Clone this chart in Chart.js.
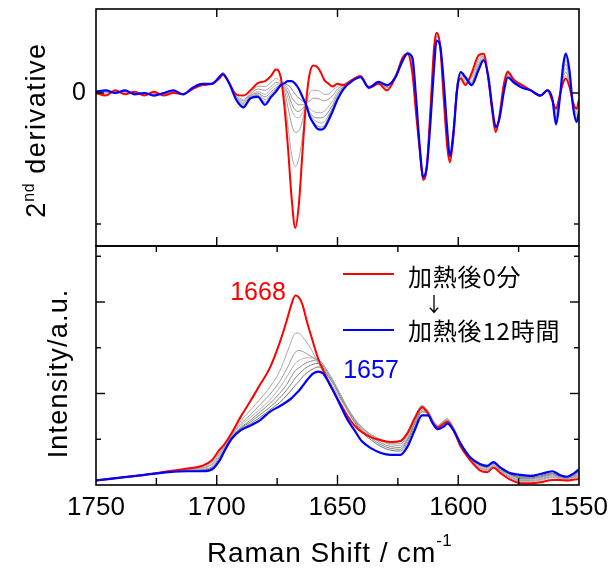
<!DOCTYPE html>
<html>
<head>
<meta charset="utf-8">
<script src="https://cdn.jsdelivr.net/npm/chart.js@4/dist/chart.umd.min.js"></script>
<style>
html,body{margin:0;padding:0;background:#fff;}
#wrap{position:relative;width:616px;height:570px;}
#wrap canvas{position:absolute;left:0;top:0;}
</style>
</head>
<body>
<div id="wrap">
<canvas id="cBot" width="616" height="570"></canvas>
<canvas id="cTop" width="616" height="570"></canvas>
</div>
<script>
// ---------- DATA ----------
const xTicks = [1750, 1700, 1650, 1600, 1550];
const xMinorTicks = [1725, 1675, 1625, 1575];

// top panel: 2nd derivative
const wnTop = [1750,1746,1742,1738,1734,1730,1726,1722,1718,1714,
1710,1706,1702,1699,1697.5,1695,1692,1689,1686,1683,
1680,1677.5,1675.5,1673.5,1672,1670.5,1669,1667.5,1666,1664.5,
1663,1661.5,1660,1658.5,1657,1655.5,1654,1652,1650,1647.5,
1644,1640.5,1637,1633,1629.5,1626,1623,1621,1619,1617.5,
1616,1614.5,1613,1611.5,1610,1609,1607.5,1606,1604.5,1603.5,
1602,1600.5,1599,1597,1594.5,1591.5,1589.5,1587.5,1586,1584.5,
1583,1581,1579.5,1577,1573.5,1570,1566,1563,1561,1559.5,
1558,1556.5,1555.5,1554,1552.5,1551,1550];

const redTop = [0.00,-0.02,0.02,-0.01,0.01,-0.02,0.01,-0.02,0.00,-0.01,
0.03,0.06,0.07,0.11,0.14,0.08,-0.01,-0.02,0.02,0.075,
0.09,0.13,0.18,0.12,-0.10,-0.42,-0.80,-1.03,-0.85,-0.45,
-0.07,0.15,0.21,0.20,0.16,0.10,0.075,0.05,0.07,0.06,
0.10,0.13,0.04,0.07,0.02,0.12,0.27,0.30,0.15,-0.15,
-0.43,-0.66,-0.56,-0.12,0.35,0.46,0.36,-0.05,-0.42,-0.53,
-0.33,0.02,0.11,0.06,0.15,0.29,0.30,0.10,-0.13,-0.30,
-0.18,0.08,0.16,0.10,0.06,0.02,-0.02,0.02,-0.06,-0.12,
-0.02,0.08,0.11,0.05,-0.07,-0.12,-0.05];

const blueTop = [0.01,0.02,0.00,0.02,-0.01,0.00,-0.02,0.00,0.02,-0.01,
0.04,0.07,0.07,0.12,0.145,0.08,-0.05,-0.11,-0.04,-0.03,
-0.09,-0.03,0.01,0.06,0.075,0.09,0.09,0.07,0.03,-0.03,
-0.09,-0.18,-0.23,-0.27,-0.28,-0.27,-0.22,-0.14,-0.05,0.03,
0.09,0.12,0.04,0.085,0.06,0.12,0.25,0.30,0.27,-0.03,
-0.40,-0.64,-0.56,-0.22,0.20,0.40,0.36,0.08,-0.30,-0.48,
-0.30,0.02,0.16,0.12,0.06,0.18,0.25,0.12,-0.10,-0.26,
-0.20,0.02,0.12,0.08,0.04,0.02,-0.02,0.02,-0.05,-0.24,
-0.05,0.22,0.30,0.18,-0.10,-0.22,-0.15];

const grayTop1 = [.00,.00,.01,.00,.00,-.01,.00,-.01,.01,-.01,
.03,.06,.07,.12,.155,.08,-.01,-.05,.00,.05,
.05,.08,.11,.08,-.02,-.25,-.47,-.56,-.50,-.33,
-.10,.00,.02,.02,.01,-.01,-.01,.02,.05,.07,
.10,.13,.05,.08,.04,.13,.26,.31,.17,-.13,
-.42,-.67,-.57,-.14,.33,.46,.37,-.03,-.40,-.52,
-.32,.05,.12,.07,.14,.28,.29,.10,-.13,-.29,
-.19,.07,.17,.11,.06,.02,-.02,.025,-.06,-.14,
-.03,.10,.13,.07,-.07,-.13,-.06];
const grayTop2 = [.00,.00,.01,.01,.00,-.01,.00,-.01,.01,-.01,
.03,.06,.07,.12,.155,.08,-.02,-.06,-.01,.03,
.02,.05,.08,.07,.02,-.11,-.24,-.30,-.29,-.21,
-.09,-.06,-.04,-.04,-.05,-.06,-.05,-.02,.03,.06,
.10,.13,.05,.08,.04,.13,.26,.31,.19,-.11,
-.42,-.67,-.57,-.15,.31,.45,.37,-.01,-.38,-.51,
-.31,.06,.13,.08,.12,.26,.28,.10,-.12,-.28,
-.19,.06,.17,.11,.06,.02,-.02,.025,-.06,-.16,
-.03,.12,.16,.08,-.08,-.15,-.08];
const grayTop3 = [.00,.01,.01,.01,.00,-.01,-.01,-.01,.01,-.01,
.04,.06,.07,.12,.155,.08,-.03,-.07,-.02,.01,
-.01,.03,.06,.07,.04,-.04,-.13,-.18,-.19,-.15,
-.09,-.12,-.14,-.15,-.15,-.14,-.11,-.06,.01,.06,
.10,.13,.05,.08,.04,.14,.25,.31,.21,-.09,
-.41,-.66,-.57,-.16,.29,.45,.37,.01,-.36,-.51,
-.31,.06,.14,.09,.11,.24,.28,.10,-.12,-.27,
-.20,.05,.16,.10,.06,.02,-.02,.025,-.06,-.18,
-.04,.14,.19,.10,-.08,-.17,-.09];
const grayTop4 = [.01,.01,.00,.01,.00,.00,-.01,.00,.01,-.01,
.04,.06,.07,.12,.155,.08,-.03,-.08,-.02,.00,
-.03,.01,.04,.06,.05,.00,-.08,-.13,-.14,-.12,
-.09,-.15,-.18,-.19,-.19,-.18,-.15,-.09,-.01,.05,
.10,.13,.05,.08,.04,.14,.25,.31,.23,-.07,
-.41,-.65,-.56,-.17,.27,.44,.37,.03,-.34,-.50,
-.30,.06,.15,.10,.09,.22,.27,.10,-.11,-.26,
-.20,.05,.16,.10,.06,.02,-.02,.025,-.05,-.19,
-.04,.16,.22,.12,-.09,-.19,-.11];
const grayTop5 = [.00,.02,.00,.02,-.01,.00,-.01,.00,.02,-.01,
.04,.07,.07,.12,.15,.08,-.04,-.09,-.03,-.01,
-.05,-.01,.03,.06,.06,.03,-.03,-.07,-.09,-.09,
-.09,-.16,-.20,-.22,-.23,-.22,-.18,-.11,-.03,.05,
.09,.13,.04,.08,.05,.13,.24,.31,.25,-.05,
-.40,-.65,-.56,-.18,.25,.43,.36,.05,-.32,-.49,
-.29,.06,.15,.11,.08,.21,.26,.10,-.11,-.25,
-.21,.04,.15,.10,.06,.02,-.02,.025,-.05,-.21,
-.04,.18,.25,.14,-.09,-.20,-.12];
const grayTop6 = [.01,.02,.00,.02,-.01,.00,-.02,.00,.02,-.01,
.04,.07,.07,.12,.15,.08,-.04,-.10,-.03,-.02,
-.07,-.02,.02,.06,.07,.06,.03,-.01,-.04,-.06,
-.09,-.17,-.22,-.25,-.26,-.25,-.20,-.12,-.04,.04,
.09,.12,.04,.085,.05,.13,.23,.30,.26,-.04,
-.40,-.64,-.55,-.19,.23,.43,.36,.07,-.31,-.49,
-.29,.06,.16,.11,.07,.19,.26,.10,-.10,-.25,
-.21,.03,.14,.09,.06,.02,-.02,.025,-.05,-.22,
-.05,.20,.28,.16,-.10,-.22,-.14];

// bottom panel: intensity
const wnBot = [1750,1740,1730,1720,1712,1706,1702,1699,1697,1694,
1690,1686,1682,1678,1674,1671,1669,1667.5,1666,1664.5,
1662.5,1660,1658,1656,1654,1652,1649,1646,1643,1640,
1636,1632,1628,1624,1621,1618,1615,1612.5,1610.5,1608.5,
1606,1604.5,1602,1599,1595,1591,1588,1585.5,1582.5,1578.5,
1574,1570,1566,1561,1558,1555,1552,1550];

const redBot = [.05,.08,.11,.15,.18,.21,.27,.38,.44,.56,
.75,.92,1.10,1.28,1.55,1.80,1.98,2.07,2.05,1.97,
1.77,1.55,1.38,1.26,1.14,1.04,.90,.76,.65,.58,
.52,.49,.47,.48,.57,.73,.85,.78,.68,.63,
.67,.69,.60,.42,.27,.16,.14,.19,.13,.06,
.02,.02,.03,.055,.055,.05,.06,.065];

const blueBot = [.05,.08,.11,.14,.15,.15,.17,.26,.36,.50,
.60,.65,.71,.80,.86,.91,.95,.99,1.03,1.08,
1.15,1.22,1.24,1.22,1.14,1.04,.88,.72,.60,.48,
.40,.35,.33,.33,.42,.60,.76,.76,.67,.61,
.64,.67,.60,.45,.30,.23,.21,.25,.19,.13,
.11,.10,.12,.15,.11,.09,.13,.17];

const grayBot1 = [.05,.08,.11,.15,.175,.20,.25,.35,.42,.55,
.70,.82,.94,1.07,1.24,1.44,1.58,1.66,1.66,1.62,
1.55,1.44,1.33,1.24,1.16,1.08,.95,.82,.71,.63,
.55,.50,.47,.47,.57,.75,.87,.81,.71,.65,
.70,.72,.63,.45,.29,.18,.16,.21,.15,.08,
.04,.04,.05,.08,.07,.06,.08,.09];
const grayBot2 = [.05,.08,.11,.15,.17,.19,.23,.33,.41,.54,
.67,.77,.88,.99,1.13,1.27,1.38,1.45,1.47,1.46,
1.43,1.39,1.35,1.28,1.20,1.12,.98,.84,.72,.63,
.55,.49,.45,.45,.55,.73,.86,.81,.71,.65,
.70,.72,.63,.46,.30,.19,.17,.22,.16,.09,
.05,.05,.06,.09,.08,.07,.09,.10];
const grayBot3 = [.05,.08,.11,.145,.165,.18,.22,.31,.40,.53,
.65,.74,.83,.93,1.06,1.18,1.27,1.33,1.36,1.38,
1.39,1.39,1.37,1.32,1.23,1.15,1.00,.85,.73,.63,
.54,.48,.44,.43,.53,.71,.85,.81,.71,.65,
.70,.72,.63,.46,.30,.20,.18,.23,.16,.10,
.06,.06,.07,.10,.08,.07,.09,.11];
const grayBot4 = [.05,.08,.11,.145,.16,.17,.20,.30,.39,.52,
.63,.71,.80,.89,1.00,1.10,1.19,1.25,1.28,1.31,
1.34,1.36,1.37,1.32,1.24,1.15,1.00,.85,.72,.62,
.53,.46,.42,.41,.51,.69,.84,.80,.70,.64,
.69,.71,.62,.46,.30,.21,.19,.23,.17,.11,
.07,.07,.08,.11,.09,.08,.10,.13];
const grayBot5 = [.05,.08,.11,.14,.16,.165,.19,.28,.38,.51,
.62,.69,.77,.85,.95,1.04,1.11,1.17,1.21,1.25,
1.29,1.32,1.33,1.30,1.22,1.14,.99,.84,.71,.60,
.51,.44,.40,.39,.49,.67,.82,.79,.69,.63,
.68,.70,.62,.46,.31,.22,.20,.24,.18,.12,
.08,.08,.09,.12,.09,.08,.11,.14];
const grayBot6 = [.05,.08,.11,.14,.155,.16,.18,.27,.37,.51,
.61,.67,.74,.82,.90,.98,1.04,1.09,1.13,1.18,
1.23,1.27,1.29,1.27,1.19,1.12,.97,.82,.69,.58,
.49,.42,.38,.37,.46,.64,.80,.78,.68,.62,
.67,.69,.61,.46,.31,.22,.20,.24,.18,.12,
.09,.09,.10,.13,.10,.08,.12,.15];

const legendLabels = ['加熱後0分', '加熱後12時間'];
const peakLabels = ['1668', '1657'];

// ---------- STYLE / HELPERS ----------
const RED = 'rgb(255,0,0)', BLUE = 'rgb(0,0,255)';
const grayColorsTop = ['#a8a8a8','#9c9c9c','#b2b2b2','#8e8e8e','#a0a0a0','#858585'];
const grayColorsBot = ['#a8a8a8','#9a9a9a','#b0b0b0','#8a8a8a','#7e7e7e','#707070'];
const SANS = "'Liberation Sans', Arial, Helvetica, sans-serif";
const CJK = "'Noto Sans CJK JP', 'Noto Sans CJK SC', sans-serif";

function pts(xs, ys){ return xs.map((x,i)=>({x:x, y:ys[i]})); }
function ds(xs, ys, color, width, order){
  return {data: pts(xs, ys), borderColor: color, borderWidth: width, pointRadius: 0,
          fill: false, cubicInterpolationMode: 'monotone', order: order};
}
function spacedText(ctx, text, x, y, spacing){
  let cx = x;
  for (const ch of text){ ctx.fillText(ch, cx, y); cx += ctx.measureText(ch).width + spacing; }
  return cx;
}
function spacedWidth(ctx, text, spacing){
  let w = 0; for (const ch of text){ w += ctx.measureText(ch).width + spacing; } return w;
}
function line(ctx,x1,y1,x2,y2){ ctx.beginPath(); ctx.moveTo(x1,y1); ctx.lineTo(x2,y2); ctx.stroke(); }

const xScale = {type:'linear', min:1550, max:1750, reverse:true, display:false};

// ---------- TOP CHART ----------
const topDeco = {
  id:'topDeco',
  afterDraw(chart){
    const {ctx, chartArea:a, scales:{x, y}} = chart;
    ctx.save();
    ctx.strokeStyle = '#000'; ctx.lineWidth = 1.6;
    ctx.strokeRect(a.left, a.top, a.right-a.left, a.bottom-a.top);
    ctx.lineWidth = 1.4;
    for (const v of [1700,1650,1600]){
      const px = x.getPixelForValue(v);
      line(ctx, px, a.top, px, a.top+8);
      line(ctx, px, a.bottom, px, a.bottom-9);
    }
    const y0 = y.getPixelForValue(0), y1 = y.getPixelForValue(-1);
    line(ctx, a.left, y0, a.left+8, y0); line(ctx, a.right, y0, a.right-8, y0);
    line(ctx, a.left, y1, a.left+5, y1); line(ctx, a.right, y1, a.right-5, y1);
    // "0" label
    ctx.fillStyle = '#000';
    ctx.font = '25px ' + SANS; ctx.textAlign = 'right'; ctx.textBaseline = 'alphabetic';
    ctx.fillText('0', 86, y0 + 7);
    // y title: 2nd derivative
    ctx.translate(45, 130); ctx.rotate(-Math.PI/2);
    ctx.textAlign = 'left';
    const sp = 1.6;
    ctx.font = '27px ' + SANS; const w2 = ctx.measureText('2').width + 1;
    ctx.font = '16px ' + SANS; const wnd = spacedWidth(ctx, 'nd', 0.5);
    ctx.font = '27px ' + SANS; const wd = spacedWidth(ctx, ' derivative', sp);
    let sx = -(w2 + wnd + wd)/2;
    ctx.fillText('2', sx, 0); sx += w2;
    ctx.font = '16px ' + SANS; sx = spacedText(ctx, 'nd', sx, -11, 0.5);
    ctx.font = '27px ' + SANS; spacedText(ctx, ' derivative', sx, 0, sp);
    ctx.restore();
  }
};

new Chart(document.getElementById('cTop'), {
  type:'line',
  data:{datasets:[
    ds(wnTop, blueTop, BLUE, 2.2, 0),
    ds(wnTop, redTop, RED, 2.0, 1),
    ds(wnTop, grayTop1, grayColorsTop[0], 1, 2),
    ds(wnTop, grayTop2, grayColorsTop[1], 1, 3),
    ds(wnTop, grayTop3, grayColorsTop[2], 1, 4),
    ds(wnTop, grayTop4, grayColorsTop[3], 1, 5),
    ds(wnTop, grayTop5, grayColorsTop[4], 1, 6),
    ds(wnTop, grayTop6, grayColorsTop[5], 1, 7)
  ]},
  options:{
    responsive:false, animation:false, devicePixelRatio:1,
    layout:{padding:{left:96, right:37, top:9, bottom:324}},
    plugins:{legend:{display:false}, tooltip:{enabled:false}},
    scales:{x:xScale, y:{type:'linear', min:-1.168, max:0.641, display:false}}
  },
  plugins:[topDeco]
});

// ---------- BOTTOM CHART ----------
const botDeco = {
  id:'botDeco',
  afterDraw(chart){
    const {ctx, chartArea:a, scales:{x, y}} = chart;
    ctx.save();
    ctx.strokeStyle = '#000'; ctx.lineWidth = 1.6;
    ctx.strokeRect(a.left, a.top, a.right-a.left, a.bottom-a.top);
    ctx.lineWidth = 1.4;
    for (const v of [1700,1650,1600]){
      const px = x.getPixelForValue(v);
      line(ctx, px, a.bottom, px, a.bottom-10);
    }
    for (const v of xMinorTicks){
      const px = x.getPixelForValue(v);
      line(ctx, px, a.bottom, px, a.bottom-7);
      line(ctx, px, a.top, px, a.top+6);
    }
    for (const v of [1,2]){
      const py = y.getPixelForValue(v);
      line(ctx, a.left, py, a.left+9, py); line(ctx, a.right, py, a.right-9, py);
    }
    for (const v of [0.5,1.5,2.5]){
      const py = y.getPixelForValue(v);
      line(ctx, a.left, py, a.left+5, py); line(ctx, a.right, py, a.right-5, py);
    }
    // x tick labels
    ctx.fillStyle = '#000';
    ctx.font = '26px ' + SANS; ctx.textAlign = 'center'; ctx.textBaseline = 'alphabetic';
    for (const v of xTicks){ ctx.fillText(String(v), x.getPixelForValue(v), 515); }
    // x title
    ctx.textAlign = 'left';
    ctx.font = '28px ' + SANS;
    let tx = spacedText(ctx, 'Raman Shift / cm', 207, 562, 0.9);
    ctx.font = '17px ' + SANS;
    spacedText(ctx, '-1', tx, 546, 0.5);
    // legend
    ctx.strokeStyle = RED; ctx.lineWidth = 2;
    line(ctx, 343, 274, 394, 274);
    ctx.strokeStyle = BLUE;
    line(ctx, 343, 330, 394, 330);
    ctx.fillStyle = '#000'; ctx.font = '24px ' + CJK; ctx.textBaseline = 'middle';
    spacedText(ctx, legendLabels[0], 408, 277, 0.8);
    spacedText(ctx, legendLabels[1], 408, 331, 0.8);
    ctx.textAlign = 'center'; ctx.font = '20px ' + CJK;
    ctx.fillText('↓', 434, 304);
    // peak labels
    ctx.textBaseline = 'alphabetic'; ctx.font = '25px ' + SANS;
    ctx.fillStyle = RED; ctx.fillText(peakLabels[0], 258, 300);
    ctx.fillStyle = BLUE; ctx.fillText(peakLabels[1], 371, 378);
    // y title
    ctx.fillStyle = '#000';
    ctx.translate(67, 374); ctx.rotate(-Math.PI/2);
    ctx.textAlign = 'left'; ctx.font = '27px ' + SANS;
    const t = 'Intensity/a.u.'; const sp = 1.2;
    const w = spacedWidth(ctx, t, sp) - sp;
    spacedText(ctx, t, -w/2, 0, sp);
    ctx.restore();
  }
};

new Chart(document.getElementById('cBot'), {
  type:'line',
  data:{datasets:[
    ds(wnBot, blueBot, BLUE, 2.2, 0),
    ds(wnBot, redBot, RED, 2.0, 1),
    ds(wnBot, grayBot1, grayColorsBot[0], 1, 2),
    ds(wnBot, grayBot2, grayColorsBot[1], 1, 3),
    ds(wnBot, grayBot3, grayColorsBot[2], 1, 4),
    ds(wnBot, grayBot4, grayColorsBot[3], 1, 5),
    ds(wnBot, grayBot5, grayColorsBot[4], 1, 6),
    ds(wnBot, grayBot6, grayColorsBot[5], 1, 7)
  ]},
  options:{
    responsive:false, animation:false, devicePixelRatio:1,
    layout:{padding:{left:96, right:37, top:246, bottom:85}},
    plugins:{legend:{display:false}, tooltip:{enabled:false}},
    scales:{x:xScale, y:{type:'linear', min:0, max:2.612, display:false}}
  },
  plugins:[botDeco]
});
</script>
</body>
</html>
